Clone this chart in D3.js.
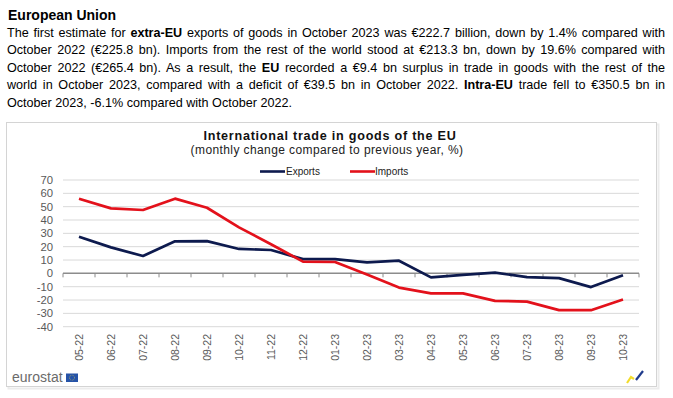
<!DOCTYPE html>
<html><head><meta charset="utf-8">
<script src="https://cdn.jsdelivr.net/npm/d3@7"></script>
<style>
body{margin:0;background:#fff;}
#wrap{position:relative;width:673px;height:398px;overflow:hidden;font-family:"Liberation Sans",Arial,sans-serif;}
.hd{position:absolute;left:8px;top:7px;font-size:14px;font-weight:bold;color:#000;}
.ln{position:absolute;left:7px;width:658px;font-size:12.6px;color:#000;text-align:justify;text-align-last:justify;white-space:nowrap;}
.ln.last{text-align-last:left;}
svg{position:absolute;left:0;top:0;}
</style></head>
<body><div id="wrap"></div>
<script>
const categories = ["05-22","06-22","07-22","08-22","09-22","10-22","11-22","12-22","01-23","02-23","03-23","04-23","05-23","06-23","07-23","08-23","09-23","10-23"];
const exportsVals = [27.5,19.5,13,24,24.2,18.3,17.5,10.7,10.7,8.3,9.5,-3,-1.2,0.5,-2.8,-3.6,-10.3,-1.4];
const importsVals = [56,48.7,47.5,56,49.2,34.5,21.8,8.8,8.5,-0.9,-10.7,-15,-15,-20.6,-21.2,-27.6,-27.6,-19.6];
const yTicks = [70,60,50,40,30,20,10,0,-10,-20,-30,-40];
const seriesNames = ["Exports","Imports"];
const seriesColors = ["#0d1a4e","#e3111b"];

const wrap = d3.select("#wrap");
wrap.append("div").attr("class","hd").text("European Union");
const lines = [
  [["The first estimate for ",0],["extra-EU",1],[" exports of goods in October 2023 was €222.7 billion, down by 1.4% compared with",0]],
  [["October 2022 (€225.8 bn). Imports from the rest of the world stood at €213.3 bn, down by 19.6% compared with",0]],
  [["October 2022 (€265.4 bn). As a result, the ",0],["EU",1],[" recorded a €9.4 bn surplus in trade in goods with the rest of the",0]],
  [["world in October 2023, compared with a deficit of €39.5 bn in October 2022. ",0],["Intra-EU",1],[" trade fell to €350.5 bn in",0]],
  [["October 2023, -6.1% compared with October 2022.",0]]
];
lines.forEach((segs,i)=>{
  const d = wrap.append("div").attr("class","ln"+(i===lines.length-1?" last":"")).style("top",(26+i*17.4)+"px");
  segs.forEach(s=>{ d.append("span").style("font-weight",s[1]?"bold":"normal").text(s[0]); });
});

const svg = wrap.append("svg").attr("width",673).attr("height",398);
// chart box
svg.append("rect").attr("x",8.5).attr("y",124.5).attr("width",650).attr("height",264).attr("fill","none").attr("stroke","#ececec").attr("stroke-width",2);
svg.append("rect").attr("x",6.5).attr("y",122.5).attr("width",650).attr("height",264).attr("fill","#fff").attr("stroke","#d4d4d4").attr("stroke-width",1);

svg.append("text").attr("x",330).attr("y",140).attr("text-anchor","middle").attr("font-size","12.6px").attr("letter-spacing","0.75px").attr("font-weight","bold").attr("fill","#111").text("International trade in goods of the EU");
svg.append("text").attr("x",327).attr("y",154).attr("text-anchor","middle").attr("font-size","12px").attr("letter-spacing","0.4px").attr("fill","#222").text("(monthly change compared to previous year, %)");

const x = d3.scalePoint().domain(categories).range([63,639]).padding(0.5);
const xb = d3.scaleBand().domain(categories).range([63,639]);
const y = d3.scaleLinear().domain([-40,70]).range([326.7,180]);

// gridlines
svg.append("g").selectAll("line").data(yTicks.filter(t=>t!==0)).join("line")
  .attr("x1",63).attr("x2",639).attr("y1",d=>y(d)).attr("y2",d=>y(d)).attr("stroke","#d9d9d9").attr("stroke-width",1);
// y labels
svg.append("g").selectAll("text").data(yTicks).join("text")
  .attr("x",53).attr("y",d=>y(d)).attr("dy","0.35em").attr("text-anchor","end").attr("font-size","11.3px").attr("fill","#595959").text(d=>d);
// zero axis
svg.append("line").attr("x1",63).attr("x2",639).attr("y1",y(0)).attr("y2",y(0)).attr("stroke","#8c8c8c").attr("stroke-width",1.5);
svg.append("g").selectAll("line").data(d3.range(categories.length+1)).join("line")
  .attr("x1",i=>63+i*xb.step()).attr("x2",i=>63+i*xb.step()).attr("y1",y(0)).attr("y2",y(0)+4).attr("stroke","#8c8c8c").attr("stroke-width",1);
// x labels
svg.append("g").selectAll("text").data(categories).join("text")
  .attr("transform",d=>`translate(${x(d)},334) rotate(-90)`).attr("dy","0.35em").attr("text-anchor","end")
  .attr("font-size","10.5px").attr("fill","#595959").text(d=>d);

const line = d3.line().x((d,i)=>x(categories[i])).y(d=>y(d));
[exportsVals,importsVals].forEach((vals,k)=>{
  svg.append("path").datum(vals).attr("d",line).attr("fill","none").attr("stroke",seriesColors[k]).attr("stroke-width",2.7).attr("stroke-linejoin","round");
});

// legend
const lg = [{x:260,tx:286},{x:350,tx:375}];
seriesNames.forEach((n,k)=>{
  svg.append("line").attr("x1",lg[k].x).attr("x2",lg[k].x+25).attr("y1",171.5).attr("y2",171.5).attr("stroke",seriesColors[k]).attr("stroke-width",2.6);
  svg.append("text").attr("x",lg[k].tx).attr("y",171.5).attr("dy","0.35em").attr("font-size","10px").attr("fill","#222").text(n);
});

// eurostat logo
svg.append("text").attr("x",12).attr("y",382).attr("font-size","14px").attr("fill","#6b6b6b").text("eurostat");
svg.append("rect").attr("x",66).attr("y",373.5).attr("width",12).attr("height",8.5).attr("fill","#2553a8");
svg.append("circle").attr("cx",72).attr("cy",377.7).attr("r",2.5).attr("fill","none").attr("stroke","#e8d44d").attr("stroke-width",0.6).attr("stroke-dasharray","0.8,0.8");
// corner icon
svg.append("path").attr("d","M627,383 L631,377 L634,379").attr("fill","none").attr("stroke","#f2dc2c").attr("stroke-width",2.2);
svg.append("path").attr("d","M636,380 L643,371").attr("fill","none").attr("stroke","#1f3b8c").attr("stroke-width",2.2);
</script></body></html>
